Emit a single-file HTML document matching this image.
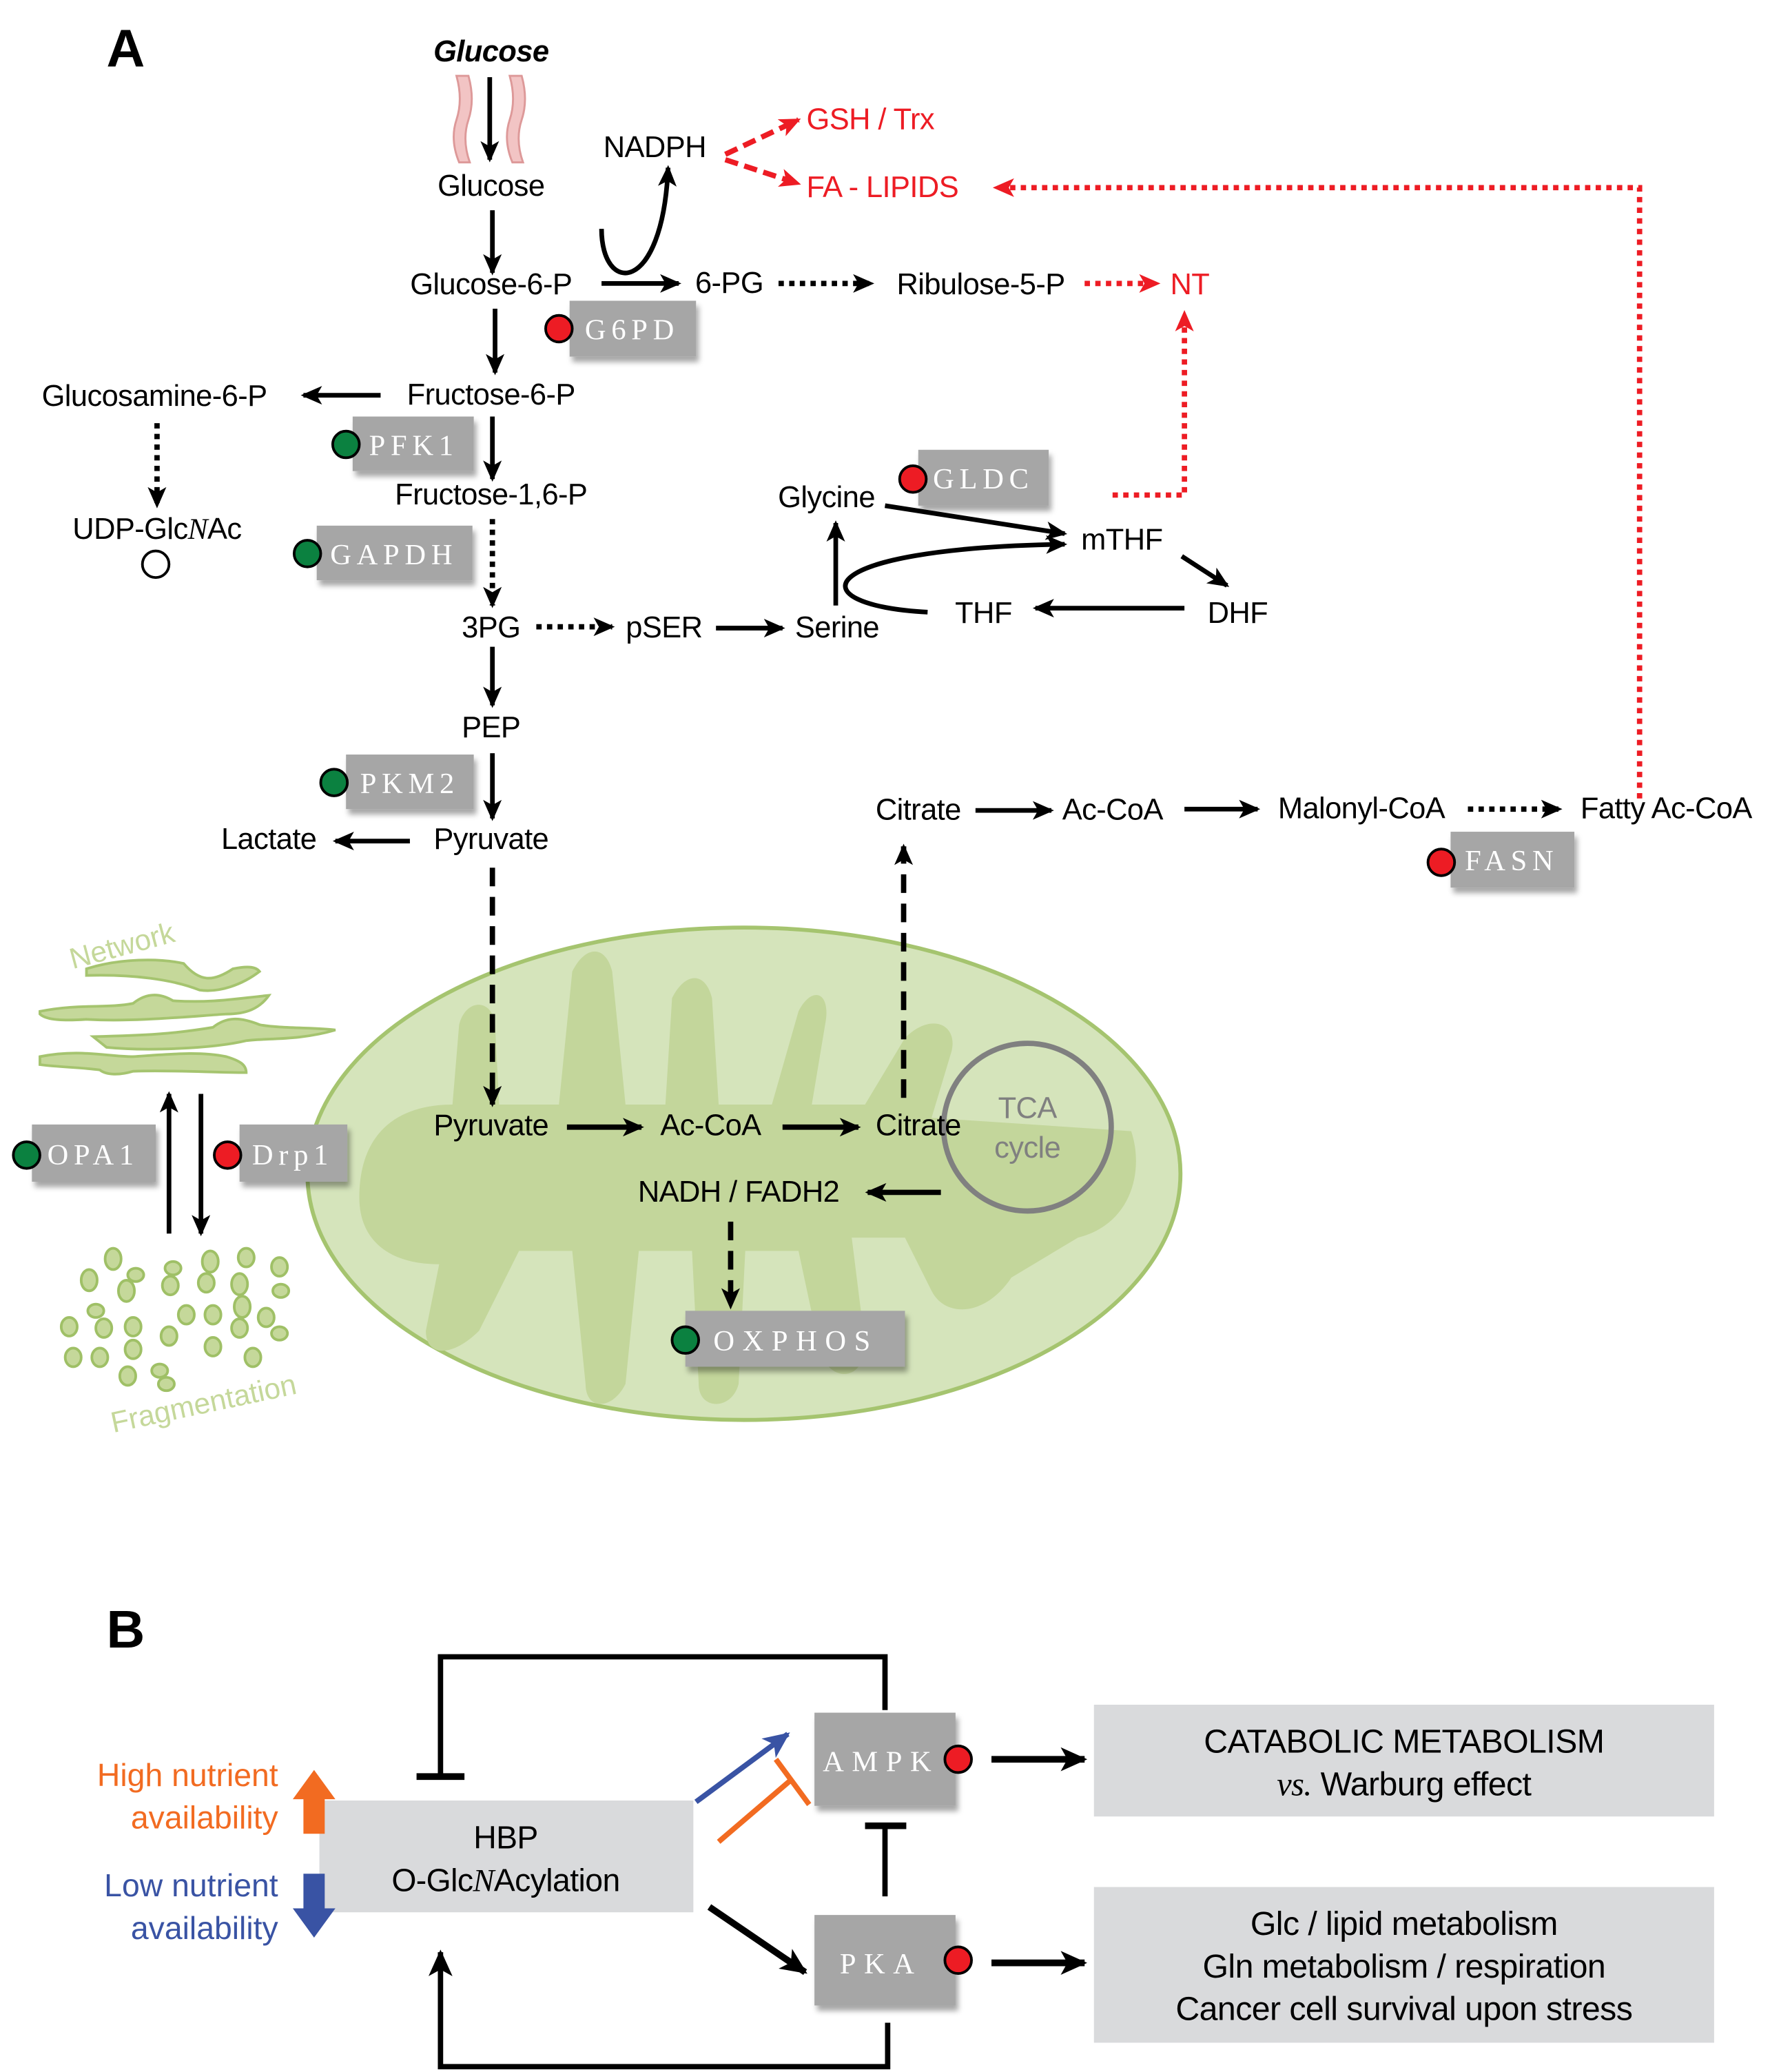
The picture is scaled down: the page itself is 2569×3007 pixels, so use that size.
<!DOCTYPE html>
<html><head><meta charset="utf-8"><style>
html,body{margin:0;padding:0;background:#fff;}
svg{display:block;}
text{font-family:"Liberation Sans",sans-serif;}
.t{font-size:22.5px;fill:#000;text-anchor:middle;letter-spacing:-0.3px;}
.r{fill:#ed1c24;}
.bx{font-family:"Liberation Serif",serif;font-size:22px;fill:#fff;letter-spacing:4px;text-anchor:middle;}
</style></head><body>
<svg width="2569" height="3007" viewBox="0 0 1330 1557" preserveAspectRatio="none" xmlns="http://www.w3.org/2000/svg">
<defs>
<marker id="ah" markerUnits="userSpaceOnUse" markerWidth="16" markerHeight="14" refX="14" refY="7" orient="auto"><path d="M0,0 L16,7 L0,14 L4,7 Z" fill="#000"/></marker>
<marker id="ahr" markerUnits="userSpaceOnUse" markerWidth="16" markerHeight="14" refX="14" refY="7" orient="auto"><path d="M0,0 L16,7 L0,14 L4,7 Z" fill="#ed1c24"/></marker>
<marker id="ahb" markerUnits="userSpaceOnUse" markerWidth="20" markerHeight="18" refX="18" refY="9" orient="auto"><path d="M0,0 L20,9 L0,18 L5,9 Z" fill="#000"/></marker>
<marker id="ahbl" markerUnits="userSpaceOnUse" markerWidth="20" markerHeight="18" refX="18" refY="9" orient="auto"><path d="M0,0 L20,9 L0,18 L5,9 Z" fill="#3953a4"/></marker>
<filter id="sh" x="-20%" y="-20%" width="140%" height="160%"><feDropShadow dx="2" dy="4" stdDeviation="2" flood-color="#000" flood-opacity="0.35"/></filter>
</defs>

<!-- Panel A -->
<text x="80" y="50" style="font-size:40px;font-weight:bold">A</text>
<text x="369" y="46" class="t" style="font-weight:bold;font-style:italic">Glucose</text>
<path d="M343,57 Q348,75 343,90 Q338,105 345,122 L353,122 Q347,105 352,90 Q357,75 352,57Z" fill="#f2c4c4" stroke="#d99" stroke-width="1.5"/>
<path d="M383,57 Q388,75 383,90 Q378,105 385,122 L393,122 Q387,105 392,90 Q397,75 392,57Z" fill="#f2c4c4" stroke="#d99" stroke-width="1.5"/>
<g stroke="#000" stroke-width="3.5" fill="none" marker-end="url(#ah)">
<line x1="368" y1="58" x2="368" y2="120"/>
<line x1="370" y1="158" x2="370" y2="205"/>
<line x1="372" y1="232" x2="372" y2="280"/>
<line x1="286" y1="297" x2="228" y2="297"/>
<line x1="370" y1="313" x2="370" y2="360"/>
<line x1="370" y1="486" x2="370" y2="530"/>
<line x1="370" y1="566" x2="370" y2="615"/>
<line x1="308" y1="632" x2="252" y2="632"/>
<line x1="538" y1="472" x2="588" y2="472"/>
<line x1="452" y1="213" x2="510" y2="213"/>
<path d="M452,172 C452,222 498,222 502,126"/>
<line x1="628" y1="455" x2="628" y2="393"/>
<line x1="665" y1="380" x2="800" y2="401"/>
<path d="M697,460 C600,455 605,412 800,409"/>
<line x1="888" y1="418" x2="922" y2="440"/>
<line x1="890" y1="457" x2="778" y2="457"/>
<line x1="733" y1="609" x2="790" y2="609"/>
<line x1="890" y1="608" x2="945" y2="608"/>
<line x1="127" y1="927" x2="127" y2="822"/>
<line x1="151" y1="822" x2="151" y2="927"/>
</g>
<g stroke="#000" stroke-width="4" fill="none" stroke-dasharray="4,4" marker-end="url(#ah)">
<line x1="118" y1="318" x2="118" y2="380"/>
<line x1="370" y1="390" x2="370" y2="455"/>
<line x1="403" y1="471" x2="460" y2="471"/>
<line x1="585" y1="213" x2="655" y2="213"/>
<line x1="1103" y1="608" x2="1172" y2="608"/>
</g>
<g stroke="#ed1c24" stroke-width="4" fill="none" stroke-dasharray="4,4" marker-end="url(#ahr)">
<line x1="815" y1="213" x2="870" y2="213"/>
<polyline points="836,372 890,372 890,235"/>
<polyline points="1232,600 1232,141 748,141"/>
</g>
<g stroke="#ed1c24" stroke-width="4" fill="none" stroke-dasharray="10,5" marker-end="url(#ahr)">
<line x1="545" y1="116" x2="600" y2="90"/>
<line x1="545" y1="120" x2="600" y2="138"/>
</g>

<text x="369" y="147" class="t">Glucose</text>
<text x="369" y="221" class="t">Glucose-6-P</text>
<text x="369" y="304" class="t">Fructose-6-P</text>
<text x="116" y="305" class="t">Glucosamine-6-P</text>
<text x="118" y="405" class="t">UDP-Glc<tspan style="font-family:'Liberation Serif',serif;font-style:italic">N</tspan>Ac</text>
<circle cx="117" cy="424" r="10" fill="#fff" stroke="#000" stroke-width="2"/>
<text x="369" y="379" class="t">Fructose-1,6-P</text>
<text x="369" y="479" class="t">3PG</text>
<text x="499" y="479" class="t">pSER</text>
<text x="629" y="479" class="t">Serine</text>
<text x="369" y="554" class="t">PEP</text>
<text x="369" y="638" class="t">Pyruvate</text>
<text x="202" y="638" class="t">Lactate</text>
<text x="548" y="220" class="t">6-PG</text>
<text x="737" y="221" class="t">Ribulose-5-P</text>
<text x="894" y="221" class="t r">NT</text>
<text x="492" y="118" class="t">NADPH</text>
<text x="606" y="97" class="t r" style="text-anchor:start">GSH / Trx</text>
<text x="606" y="148" class="t r" style="text-anchor:start">FA - LIPIDS</text>
<text x="621" y="381" class="t">Glycine</text>
<text x="843" y="413" class="t">mTHF</text>
<text x="930" y="468" class="t">DHF</text>
<text x="739" y="468" class="t">THF</text>
<text x="690" y="616" class="t">Citrate</text>
<text x="836" y="616" class="t">Ac-CoA</text>
<text x="1023" y="615" class="t">Malonyl-CoA</text>
<text x="1252" y="615" class="t">Fatty Ac-CoA</text>

<!-- Mitochondrion -->
<ellipse cx="559" cy="882" rx="328" ry="185" fill="#d5e4bb" stroke="#a5c46f" stroke-width="3"/>
<path d="M270,900 C270,850 300,830 340,830 L345,770 C350,750 370,750 372,770 L375,830 L420,830 L430,730 C440,710 455,710 460,730 L470,830 L500,830 L505,750 C515,730 530,730 535,750 L540,830 L580,830 L600,760 C610,740 625,745 620,770 L610,830 L650,830 L680,780 C700,760 720,770 715,790 L700,840 L850,850 C860,880 850,920 810,930 L760,960 C740,990 710,990 700,970 L680,930 L640,930 L650,1010 C650,1040 620,1040 615,1010 L600,940 L560,940 L555,1040 C550,1060 525,1060 525,1040 L520,940 L480,940 L470,1040 C460,1060 440,1060 440,1040 L430,940 L390,940 L360,1000 C340,1020 320,1020 320,1000 L330,950 C290,950 270,930 270,900Z" fill="#c3d69b"/>
<circle cx="772" cy="847" r="63" fill="none" stroke="#808080" stroke-width="4"/>
<text x="772" y="840" class="t" style="fill:#808080">TCA</text>
<text x="772" y="870" class="t" style="fill:#808080">cycle</text>
<g stroke="#000" stroke-width="4" fill="none" stroke-dasharray="14,8" marker-end="url(#ah)">
<line x1="370" y1="652" x2="370" y2="830"/>
<line x1="679" y1="825" x2="679" y2="636"/>
<line x1="549" y1="918" x2="549" y2="982"/>
</g>
<g stroke="#000" stroke-width="4" fill="none" marker-end="url(#ah)">
<line x1="426" y1="847" x2="482" y2="847"/>
<line x1="588" y1="847" x2="645" y2="847"/>
<line x1="707" y1="896" x2="652" y2="896"/>
</g>
<text x="369" y="853" class="t">Pyruvate</text>
<text x="534" y="853" class="t">Ac-CoA</text>
<text x="690" y="853" class="t">Citrate</text>
<text x="555" y="903" class="t">NADH / FADH2</text>

<!-- Network -->
<text x="92" y="718" transform="rotate(-15 92 712)" style="font-size:22px;fill:#c5d89a;text-anchor:middle">Network</text>
<g fill="#c5d89a" stroke="#a5c46f" stroke-width="2">
<path d="M65,728 C90,720 120,720 138,724 C150,738 160,738 175,728 C185,726 192,726 195,730 C182,740 165,746 150,744 C130,736 100,732 65,733Z"/>
<path d="M30,760 C60,754 80,758 100,754 C110,746 120,746 130,752 C160,754 180,750 202,748 C195,758 185,762 170,762 C140,764 100,768 65,766 C50,767 35,767 30,762Z"/>
<path d="M70,779 C110,778 130,777 160,772 C170,764 180,764 195,770 C210,773 240,772 252,774 C225,782 200,780 185,782 C160,788 110,790 80,787Z"/>
<path d="M30,794 C60,788 80,794 100,794 C130,792 150,790 170,794 C180,797 185,800 185,806 C160,806 130,804 100,805 C90,808 80,808 75,804 C60,802 45,802 30,800Z"/>
</g>
<g fill="#c5d89a" stroke="#9fc066" stroke-width="2">
<ellipse cx="85" cy="946" rx="6" ry="8"/><ellipse cx="102" cy="958" rx="6" ry="5"/><ellipse cx="130" cy="953" rx="6" ry="5"/><ellipse cx="158" cy="948" rx="6" ry="8"/><ellipse cx="185" cy="945" rx="6" ry="7"/><ellipse cx="210" cy="952" rx="6" ry="7"/>
<ellipse cx="67" cy="962" rx="6" ry="8"/><ellipse cx="95" cy="970" rx="6" ry="8"/><ellipse cx="128" cy="966" rx="6" ry="7"/><ellipse cx="155" cy="964" rx="6" ry="7"/><ellipse cx="180" cy="965" rx="6" ry="8"/><ellipse cx="211" cy="970" rx="6" ry="5"/>
<ellipse cx="72" cy="985" rx="6" ry="5"/><ellipse cx="140" cy="988" rx="6" ry="7"/><ellipse cx="160" cy="988" rx="6" ry="7"/><ellipse cx="182" cy="982" rx="6" ry="8"/><ellipse cx="200" cy="990" rx="6" ry="7"/>
<ellipse cx="52" cy="997" rx="6" ry="7"/><ellipse cx="78" cy="998" rx="6" ry="7"/><ellipse cx="100" cy="997" rx="6" ry="7"/><ellipse cx="127" cy="1004" rx="6" ry="7"/><ellipse cx="180" cy="998" rx="6" ry="7"/><ellipse cx="210" cy="1002" rx="6" ry="5"/>
<ellipse cx="55" cy="1020" rx="6" ry="7"/><ellipse cx="75" cy="1020" rx="6" ry="7"/><ellipse cx="100" cy="1014" rx="6" ry="7"/><ellipse cx="160" cy="1012" rx="6" ry="7"/><ellipse cx="190" cy="1020" rx="6" ry="7"/>
<ellipse cx="96" cy="1034" rx="6" ry="7"/><ellipse cx="120" cy="1030" rx="6" ry="5"/><ellipse cx="125" cy="1040" rx="6" ry="5"/>
</g>
<text x="153" y="1062" transform="rotate(-12 153 1055)" style="font-size:22px;fill:#c5d89a;text-anchor:middle">Fragmentation</text>

<!-- enzyme boxes -->
<g fill="#a6a6a6" filter="url(#sh)">
<rect x="428" y="226" width="95" height="42"/>
<rect x="265" y="313" width="91" height="41"/>
<rect x="238" y="395" width="117" height="41"/>
<rect x="260" y="567" width="96" height="41"/>
<rect x="690" y="338" width="98" height="42"/>
<rect x="1090" y="625" width="93" height="42"/>
<rect x="24" y="845" width="93" height="43"/>
<rect x="180" y="845" width="81" height="43"/>
<rect x="515" y="985" width="165" height="42"/>
<rect x="612" y="1287" width="106" height="70"/>
<rect x="612" y="1439" width="106" height="68"/>
</g>
<text x="475" y="255" class="bx">G6PD</text>
<text x="311" y="342" class="bx">PFK1</text>
<text x="296" y="424" class="bx">GAPDH</text>
<text x="308" y="596" class="bx">PKM2</text>
<text x="739" y="367" class="bx">GLDC</text>
<text x="1136" y="654" class="bx">FASN</text>
<text x="70" y="875" class="bx">OPA1</text>
<text x="220" y="875" class="bx">Drp1</text>
<text x="598" y="1015" class="bx" style="letter-spacing:6px">OXPHOS</text>
<text x="662" y="1331" class="bx" style="letter-spacing:6px">AMPK</text>
<text x="662" y="1483" class="bx" style="letter-spacing:6px">PKA</text>
<g stroke="#000" stroke-width="2">
<circle cx="420" cy="247" r="10" fill="#ed1c24"/>
<circle cx="260" cy="334" r="10" fill="#0b8140"/>
<circle cx="231" cy="416" r="10" fill="#0b8140"/>
<circle cx="251" cy="588" r="10" fill="#0b8140"/>
<circle cx="686" cy="360" r="10" fill="#ed1c24"/>
<circle cx="1083" cy="648" r="10" fill="#ed1c24"/>
<circle cx="20" cy="868" r="10" fill="#0b8140"/>
<circle cx="171" cy="868" r="10" fill="#ed1c24"/>
<circle cx="515" cy="1007" r="10" fill="#0b8140"/>
<circle cx="720" cy="1322" r="10" fill="#ed1c24"/>
<circle cx="720" cy="1473" r="10" fill="#ed1c24"/>
</g>

<!-- Panel B -->
<text x="80" y="1238" style="font-size:40px;font-weight:bold">B</text>
<rect x="240" y="1353" width="281" height="84" fill="#d9dadc"/>
<text x="380" y="1389" class="t" style="font-size:24px">HBP</text>
<text x="380" y="1421" class="t" style="font-size:24px">O-Glc<tspan style="font-family:'Liberation Serif',serif;font-style:italic">N</tspan>Acylation</text>
<text x="209" y="1342" style="font-size:24px;fill:#f26b21;text-anchor:end">High nutrient</text>
<text x="209" y="1374" style="font-size:24px;fill:#f26b21;text-anchor:end">availability</text>
<text x="209" y="1425" style="font-size:24px;fill:#3953a4;text-anchor:end">Low nutrient</text>
<text x="209" y="1457" style="font-size:24px;fill:#3953a4;text-anchor:end">availability</text>
<path d="M228,1378 L228,1352 L220,1352 L236,1330 L252,1352 L244,1352 L244,1378Z" fill="#f26b21"/>
<path d="M228,1408 L228,1434 L220,1434 L236,1456 L252,1434 L244,1434 L244,1408Z" fill="#3953a4"/>
<g stroke="#000" fill="none">
<polyline points="331,1335 331,1245 665,1245 665,1285" stroke-width="4"/>
<line x1="313" y1="1335" x2="349" y2="1335" stroke-width="5"/>
<polyline points="667,1520 667,1553 331,1553 331,1467" stroke-width="4" marker-end="url(#ahb)"/>
<line x1="665" y1="1425" x2="665" y2="1372" stroke-width="4"/>
<line x1="650" y1="1372" x2="681" y2="1372" stroke-width="5"/>
<line x1="533" y1="1433" x2="605" y2="1482" stroke-width="5" marker-end="url(#ahb)"/>
<line x1="745" y1="1322" x2="815" y2="1322" stroke-width="5" marker-end="url(#ahb)"/>
<line x1="745" y1="1475" x2="815" y2="1475" stroke-width="5" marker-end="url(#ahb)"/>
</g>
<line x1="523" y1="1354" x2="592" y2="1303" stroke="#3953a4" stroke-width="4" marker-end="url(#ahbl)"/>
<line x1="540" y1="1384" x2="595" y2="1337" stroke="#f26b21" stroke-width="4"/>
<line x1="583" y1="1322" x2="608" y2="1356" stroke="#f26b21" stroke-width="4"/>
<rect x="822" y="1281" width="466" height="84" fill="#d9dadc"/>
<rect x="822" y="1418" width="466" height="117" fill="#d9dadc"/>
<text x="1055" y="1317" class="t" style="font-size:25px">CATABOLIC METABOLISM</text>
<text x="1055" y="1349" class="t" style="font-size:25px"><tspan style="font-family:'Liberation Serif',serif;font-style:italic">vs.</tspan> Warburg effect</text>
<text x="1055" y="1454" class="t" style="font-size:25px">Glc / lipid metabolism</text>
<text x="1055" y="1486" class="t" style="font-size:25px">Gln metabolism / respiration</text>
<text x="1055" y="1518" class="t" style="font-size:25px">Cancer cell survival upon stress</text>
</svg>
</body></html>
